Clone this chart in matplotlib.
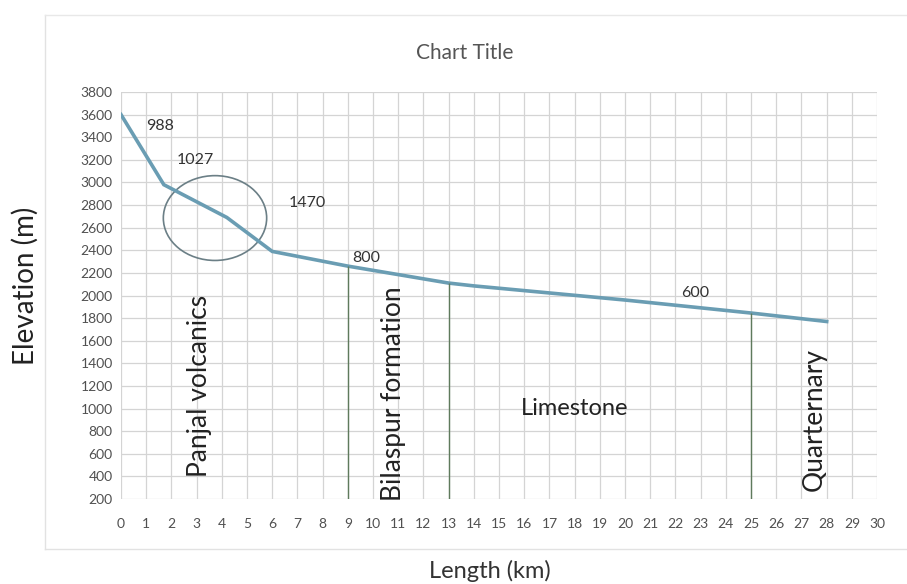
import matplotlib.pyplot as plt
import numpy as np
from matplotlib.patches import Ellipse

# profile along the section
length_km = [0, 1.7, 4.2, 6, 9, 13, 14, 20, 25, 28]
elevation_m = [3600, 2980, 2690, 2390, 2260, 2110, 2085, 1960, 1845, 1770]

# formation boundaries (km) and elevation of the profile there
boundary_km = [9, 13, 25]
boundary_top = [2260, 2110, 1845]

# segment length labels
seg_labels = ['988', '1027', '1470', '800', '600']
seg_x = [1.55, 2.95, 7.4, 9.75, 22.8]
seg_y = [3500, 3200, 2820, 2330, 2020]

# formation names
unit_names = ['Panjal volcanics', 'Bilaspur formation', 'Limestone', 'Quarternary']
unit_x = [3.1, 10.8, 18.0, 27.5]
unit_y = [1200, 1130, 1000, 900]
unit_rot = [90, 90, 0, 90]
unit_size = [19, 19, 17, 19]

plt.rcParams['font.family'] = ['Lato', 'DejaVu Sans']

fig = plt.figure(figsize=(9.07, 5.84), dpi=100)
ax = fig.add_axes((0.1334, 0.1455, 0.8336, 0.697))

ax.set_xlim(0, 30)
ax.set_ylim(200, 3800)
ax.set_xticks(np.arange(0, 31, 1))
ax.set_yticks(np.arange(200, 3801, 200))
ax.grid(True, color='#d4d4d4', lw=0.9)
ax.set_axisbelow(True)
for s in ax.spines.values():
    s.set_visible(False)
ax.tick_params(length=0, labelsize=10, colors='#505050')
ax.tick_params(axis='x', pad=14)
ax.tick_params(axis='y', pad=6)

ax.plot(length_km, elevation_m, color='#6a9db3', lw=2.6, solid_joinstyle='miter')

ax.vlines(boundary_km, 200, boundary_top, color='#5f7a5c', lw=1.0)

# circle marking the volcanics outcrop
ax.add_patch(Ellipse((3.73, 2685), 4.1, 750, fill=False, ec='#6b7f86', lw=1.2))

for t, x, y in zip(seg_labels, seg_x, seg_y):
    ax.text(x, y, t, fontsize=11.5, color='#333333', ha='center', va='center')

for t, x, y, r, fs in zip(unit_names, unit_x, unit_y, unit_rot, unit_size):
    ax.text(x, y, t, fontsize=fs, color='#222222', ha='center', va='center',
            rotation=r)

fig.text(0.512, 0.91, 'Chart Title', ha='center', va='center', fontsize=15,
         color='#555555')
fig.text(0.028, 0.51, 'Elevation (m)', ha='center', va='center', fontsize=20,
         rotation=90, color='#222222')
fig.text(0.54, 0.004, 'Length (km)', ha='center', va='bottom', fontsize=17,
         color='#333333')

# faint outer chart frame
fig.add_artist(plt.Line2D([0.05, 0.05], [0.06, 0.975], color='#e2e2e2', lw=1))
fig.add_artist(plt.Line2D([0.05, 1.0], [0.06, 0.06], color='#e2e2e2', lw=1))
fig.add_artist(plt.Line2D([0.05, 1.0], [0.975, 0.975], color='#e8e8e8', lw=1))

fig.savefig('out.png', dpi=100)
